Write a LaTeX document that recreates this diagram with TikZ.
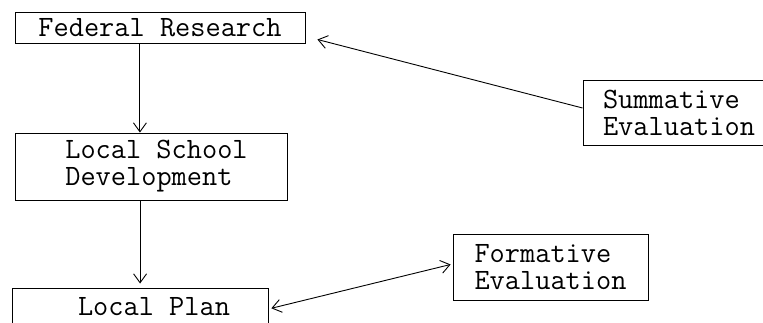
\documentclass[tikz,border=0pt]{standalone}
\usetikzlibrary{arrows.meta,calc}
\begin{document}
\begin{tikzpicture}[x=1pt,y=-1pt,
  box/.style={draw,line width=0.9pt,rectangle,inner sep=0pt,
    font=\ttfamily\fontsize{29.5}{27}\selectfont,align=left},
  arr/.style={line width=0.9pt,-{Straight Barb[length=9pt,width=13pt]}},
  darr/.style={line width=0.9pt,{Straight Barb[length=9pt,width=13pt]}-{Straight Barb[length=9pt,width=13pt]}}]
\useasboundingbox (0,0) rectangle (763,323);
\node[box,minimum width=290pt,minimum height=31pt] (fed) at (160,27.5) {Federal Research};
\node[box,minimum width=272pt,minimum height=67pt] (ls) at (151,166.5)
  {\hspace*{11pt}Local School\\\hspace*{11pt}Development};
\node[box,minimum width=256pt,minimum height=38pt] (lp) at (140,307)
  {\hspace*{28pt}Local Plan};
\node[box,minimum width=195pt,minimum height=66pt] (fe) at (550.5,267)
  {Formative\\Evaluation};
\node[box,minimum width=192pt,minimum height=65pt] (se) at (679,112.5)
  {Summative\\Evaluation};
\coordinate (a1) at ($(fed.south west)!0.431!(fed.south east)$);
\draw[arr] (a1) -- (a1 |- ls.north);
\coordinate (a2) at ($(ls.south west)!0.460!(ls.south east)$);
\draw[arr,shorten >=4pt] (a2) -- (a2 |- lp.north);
\draw[darr,shorten <=3pt,shorten >=2pt] ([yshift=-2pt]lp.east) -- ([yshift=3pt]fe.west);
\draw[arr] ([yshift=4.5pt]se.west) -- ([shift={(12,12)}]fed.east);
\end{tikzpicture}
\end{document}
